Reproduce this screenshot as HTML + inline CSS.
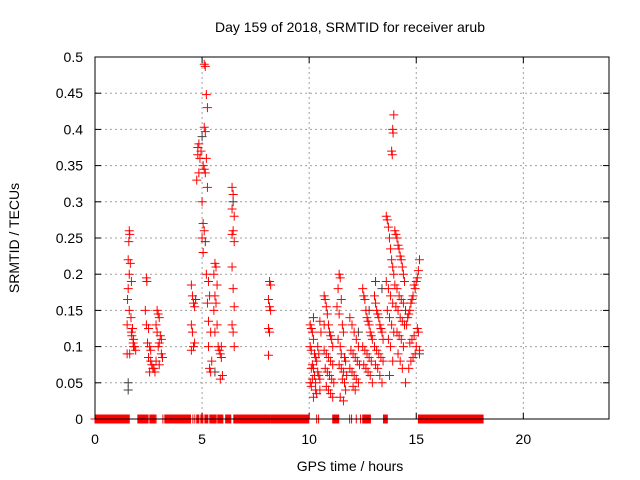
<!DOCTYPE html>
<html><head><meta charset="utf-8"><style>
html,body{margin:0;padding:0;background:#fff}
svg{display:block;font-family:"Liberation Sans",sans-serif}
</style></head><body>
<svg id="chart" width="640" height="480" viewBox="0 0 640 480" xmlns="http://www.w3.org/2000/svg">
<text x="350" y="32" font-size="14" text-anchor="middle">Day 159 of 2018, SRMTID for receiver arub</text>
<text x="350" y="471" font-size="14" text-anchor="middle">GPS time / hours</text>
<text x="0" y="0" font-size="14" text-anchor="middle" transform="translate(19,238) rotate(-90)">SRMTID / TECUs</text>
<g id="grid"></g>
<g id="ticks"></g>
<g id="gray"></g>
<g id="red"></g>
<rect x="95" y="57" width="514" height="362" fill="none" stroke="#000" stroke-width="1"/>
</svg>
<script>
const xTicks=[0,5,10,15,20];
const yTicks=[0,0.05,0.1,0.15,0.2,0.25,0.3,0.35,0.4,0.45,0.5];
const yTickLabels=["0","0.05","0.1","0.15","0.2","0.25","0.3","0.35","0.4","0.45","0.5"];
const zeroStart=[0,2.0,2.56,2.85,3.17,3.26,4.57,4.66,4.75,4.94,5.13,5.36,5.73,6.1,6.48,8.2,10.35,10.44,11.1,11.89,11.98,12.2,12.4,12.5,13.47,15.1];
const zeroEnd=[1.6,2.48,2.8,2.85,3.17,4.46,4.57,4.66,4.85,5.04,5.27,5.67,5.97,6.34,8.16,9.98,10.35,10.44,11.38,11.89,11.98,12.2,12.4,12.87,13.66,18.13];
const redHours=[
1.6,1.62,1.58,1.55,1.65,1.6,1.7,1.55,1.52,1.6,1.68,1.5,1.75,1.7,1.8,1.78,1.85,1.9,1.72,1.8,1.62,1.5,
2.4,2.42,2.35,2.4,2.5,2.45,2.55,2.6,2.5,2.6,2.65,2.7,2.55,2.9,2.95,3.0,2.85,2.9,3.05,3.1,3.0,2.95,3.1,3.15,2.85,3.0,2.75,2.8,
4.5,4.55,4.6,4.65,4.5,4.55,4.6,4.5,4.65,4.75,4.8,4.85,4.9,4.8,4.85,4.95,
5.1,5.15,5.2,5.25,5.1,5.15,5.2,5.05,5.1,5.15,5.25,5.0,5.05,5.1,5.0,5.05,5.2,5.3,5.35,5.25,5.3,5.4,5.3,5.45,5.35,5.4,
5.6,5.65,5.55,5.7,5.6,5.65,5.55,5.7,5.6,5.75,5.8,5.85,5.9,5.95,5.85,5.9,
6.4,6.45,6.4,6.5,6.45,6.4,6.5,6.4,6.45,6.5,6.4,6.45,6.5,
8.15,8.2,8.1,8.15,8.2,8.1,8.15,8.1,
10.05,10.1,10.15,10.2,10.05,10.1,10.25,10.3,10.35,10.15,10.2,10.4,10.45,10.5,10.05,10.1,10.3,10.35,10.2,10.25,10.4,10.5,10.55,10.1,10.15,10.3,10.45,10.5,
10.7,10.75,10.8,10.85,10.9,10.95,11.0,11.05,11.1,10.7,10.8,10.9,11.0,11.1,10.75,10.85,10.95,11.05,11.15,10.8,10.9,11.0,11.1,10.7,
11.4,11.45,11.35,11.5,11.3,11.4,11.55,11.6,11.35,11.45,11.5,11.65,11.7,11.4,11.5,11.6,11.75,11.55,11.65,11.7,11.45,11.6,
11.9,12.0,12.1,12.2,12.3,11.95,12.05,12.15,12.25,12.35,11.9,12.0,12.1,12.2,12.3,12.05,12.15,
12.5,12.55,12.6,12.65,12.7,12.75,12.8,12.85,12.9,12.95,12.5,12.6,12.7,12.8,12.9,12.55,12.65,12.75,12.85,12.95,
13.05,13.1,13.15,13.2,13.25,13.3,13.35,13.4,13.45,13.05,13.15,13.25,13.35,13.45,13.1,13.2,13.3,13.4,
13.6,13.65,13.7,13.75,13.8,13.85,13.9,13.95,13.6,13.7,13.8,13.9,13.65,13.75,13.85,13.95,13.7,13.8,13.9,13.75,
13.95,13.9,13.92,13.85,13.88,
14.0,14.05,14.1,14.15,14.2,14.25,14.3,14.35,14.4,14.45,14.0,14.1,14.2,14.3,14.4,14.05,14.15,14.25,14.35,14.45,14.1,14.2,14.3,14.4,14.15,14.25,14.35,14.5,
15.15,15.1,15.05,15.0,14.9,14.95,14.85,14.8,14.75,14.7,14.65,14.6,14.55,15.05,15.1,14.9,14.8,14.7,15.0,15.15,14.95,14.85,14.75,14.65];
const redValues=[
.26,.255,.245,.22,.215,.2,.19,.18,.165,.15,.14,.13,.125,.12,.11,.105,.1,.095,.115,.1,.09,.09,
.195,.19,.15,.13,.125,.105,.1,.095,.085,.08,.075,.07,.065,.15,.145,.14,.13,.12,.115,.11,.105,.1,.09,.085,.08,.075,.07,.065,
.185,.17,.16,.155,.13,.12,.1,.095,.105,.33,.375,.38,.36,.365,.34,.37,
.49,.487,.448,.43,.403,.397,.36,.35,.345,.34,.32,.3,.27,.26,.25,.23,.2,.19,.17,.16,.135,.12,.1,.08,.07,.065,
.215,.21,.2,.185,.17,.16,.15,.13,.12,.1,.095,.09,.085,.06,.055,.1,
.32,.31,.29,.28,.26,.255,.245,.21,.18,.155,.13,.12,.1,
.19,.185,.165,.155,.15,.125,.12,.088,
.13,.125,.12,.11,.1,.095,.09,.085,.08,.075,.07,.065,.06,.055,.05,.045,.04,.035,.03,.06,.1,.135,.12,.07,.055,.05,.09,.04,
.17,.165,.155,.145,.13,.12,.115,.11,.1,.095,.09,.085,.08,.075,.07,.065,.06,.055,.05,.045,.04,.035,.03,.13,
.2,.195,.18,.165,.155,.145,.13,.12,.11,.1,.09,.085,.08,.075,.07,.065,.06,.055,.05,.04,.03,.025,
.14,.13,.12,.11,.1,.095,.09,.085,.08,.075,.07,.065,.06,.055,.05,.045,.04,
.18,.17,.165,.15,.14,.135,.13,.12,.115,.11,.1,.095,.09,.085,.08,.075,.07,.065,.06,.05,
.17,.16,.15,.145,.14,.13,.125,.12,.11,.1,.095,.09,.085,.08,.075,.07,.06,.05,
.28,.275,.265,.25,.235,.22,.21,.2,.19,.18,.17,.16,.15,.14,.13,.12,.11,.1,.08,.06,
.42,.4,.395,.37,.365,
.26,.255,.25,.24,.235,.225,.22,.21,.2,.19,.185,.18,.17,.165,.16,.155,.15,.14,.135,.13,.12,.115,.11,.1,.09,.08,.07,.05,
.22,.205,.195,.19,.185,.18,.17,.165,.16,.15,.145,.14,.13,.125,.12,.115,.11,.105,.1,.095,.09,.085,.08,.07];
const grayHours=[1.55,1.55,2.5,5.15,5.0,6.45,13.1,12.8,14.5,15.15,10.2,5.6,4.7,12.3,13.4];
const grayValues=[.05,.04,.085,.245,.39,.3,.19,.15,.15,.09,.14,.065,.165,.12,.18];

const NS="http://www.w3.org/2000/svg";
const X0=95,X1=609,Y0=419,Y1=57;
function sx(h){return X0+(X1-X0)*h/24;}
function sy(v){return Y0-(Y0-Y1)*v/0.5;}
function mk(tag,attrs,parent){const e=document.createElementNS(NS,tag);for(const k in attrs)e.setAttribute(k,attrs[k]);parent.appendChild(e);return e;}
const grid=document.getElementById('grid'),ticks=document.getElementById('ticks');
yTicks.forEach((v,i)=>{
  const y=sy(v);
  if(v>0&&v<0.5){const l=mk('line',{x1:X0,x2:X1,y1:y,y2:y,stroke:'#a0a0a0','stroke-dasharray':'2,3','stroke-width':1},grid);
  
  }
  const t=mk('line',{x1:X0,x2:X0+6,y1:y,y2:y,stroke:'#000'},ticks);
  
  
  const t2=mk('line',{x1:X1-6,x2:X1,y1:y,y2:y,stroke:'#000'},ticks);
  
  
  const tx=mk('text',{x:83,y:y+5,'font-size':14,'text-anchor':'end'},ticks);
  tx.textContent=yTickLabels[i];
  
  
});
xTicks.forEach(h=>{
  const x=sx(h);
  if(h>0){const l=mk('line',{x1:x,x2:x,y1:Y1,y2:Y0,stroke:'#a0a0a0','stroke-dasharray':'2,3','stroke-width':1},grid);
  
  }
  const t=mk('line',{x1:x,x2:x,y1:Y0-6,y2:Y0,stroke:'#000'},ticks);
  
  
  const t2=mk('line',{x1:x,x2:x,y1:Y1,y2:Y1+6,stroke:'#000'},ticks);
  
  
  const tx=mk('text',{x:x,y:444,'font-size':14,'text-anchor':'middle'},ticks);
  tx.textContent=String(h);
  
  
});
function plus(h,v,color,parent,name){
  const x=sx(h),y=sy(v);
  const p=mk('path',{d:`M${x-4.5} ${y}H${x+4.5}M${x} ${y-4.5}V${y+4.5}`,stroke:color,'stroke-width':1,fill:'none'},parent);
  
  
}
const gray=document.getElementById('gray'),red=document.getElementById('red');
grayHours.forEach((h,i)=>plus(h,grayValues[i],'#404040',gray,'gray-point'));
zeroStart.forEach((s,i)=>{
  for(let h=s;h<=zeroEnd[i]+1e-9;h+=0.02)plus(h,0,'#ff0000',red,'zero-point');
});
redHours.forEach((h,i)=>plus(h,redValues[i],'#ff0000',red,'red-point'));
</script>
</body></html>
